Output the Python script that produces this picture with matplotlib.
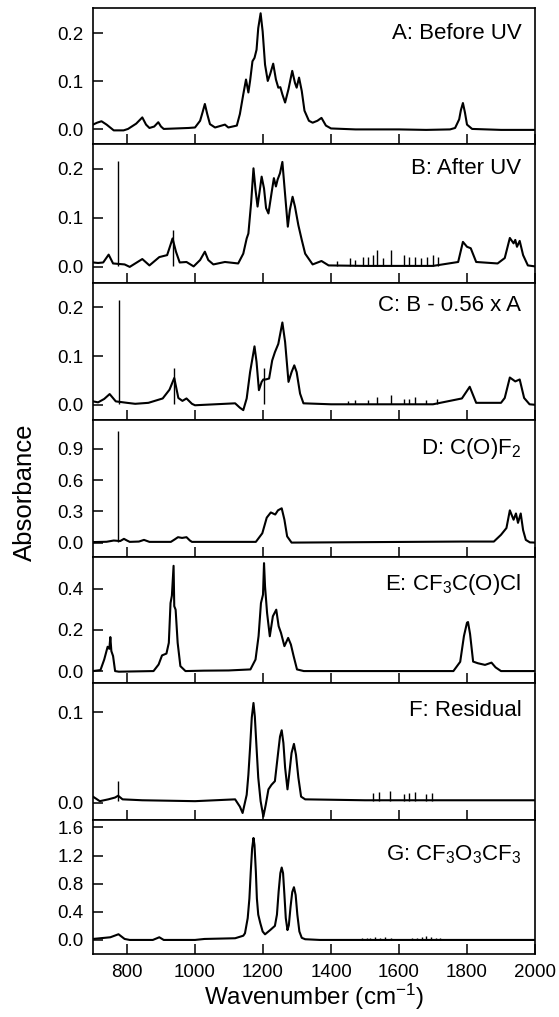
import matplotlib
matplotlib.use('Agg')
import matplotlib.pyplot as plt
from matplotlib.ticker import FixedLocator, FormatStrFormatter

plt.rcParams['font.family'] = ['Liberation Sans', 'DejaVu Sans']
plt.rcParams['mathtext.default'] = 'regular'

# ---------------- data ----------------
# A: Before UV
a_wn = [700, 712, 725, 740, 761, 790, 803, 827, 845, 856, 866, 880, 892, 900, 908, 981,
        1000, 1015, 1022, 1029, 1036, 1044, 1059, 1088, 1098, 1123, 1132, 1142, 1150, 1157,
        1162, 1169, 1175, 1181, 1186, 1193, 1199, 1206, 1214, 1221, 1230, 1238, 1245, 1251,
        1257, 1265, 1275, 1286, 1294, 1299, 1306, 1314, 1322, 1335, 1346, 1360, 1372, 1385,
        1400, 1472, 1600, 1680, 1750, 1765, 1777, 1782, 1788, 1794, 1800, 1815, 1900, 2000]
a_ab = [0.010, 0.014, 0.017, 0.010, -0.002, -0.002, 0.001, 0.012, 0.025, 0.010, 0.003, 0.006,
        0.015, 0.006, 0.001, 0.003,
        0.004, 0.018, 0.035, 0.053, 0.032, 0.011, 0.004, 0.010, 0.004, 0.008, 0.032, 0.073,
        0.104, 0.077, 0.101, 0.142, 0.149, 0.166, 0.211, 0.242, 0.204, 0.135, 0.101, 0.115,
        0.137, 0.104, 0.087, 0.088, 0.073, 0.056, 0.084, 0.122, 0.097, 0.087, 0.108, 0.080,
        0.039, 0.018, 0.014, 0.018, 0.024, 0.008, 0.002, 0.000, 0.000, -0.001, 0.000, 0.003,
        0.021, 0.040, 0.055, 0.035, 0.010, 0.001, -0.001, -0.001]

# B: After UV
b_wn = [700, 715, 730, 746, 759, 793, 808, 845, 866, 895, 918, 928, 934, 944, 955, 975, 996,
        1015, 1029, 1039, 1054, 1088, 1127, 1142, 1152, 1157, 1165, 1172, 1178, 1184, 1196,
        1203, 1209, 1216, 1225, 1232, 1238, 1243, 1250, 1257, 1263, 1273, 1279, 1287, 1294,
        1304, 1314, 1324, 1346, 1372, 1393, 1500, 1700, 1774, 1788, 1800, 1811, 1827, 1890,
        1911, 1926, 1937, 1942, 1947, 1955, 1965, 1979, 2000]
b_ab = [0.009, 0.008, 0.009, 0.025, 0.007, 0.005, 0.000, 0.016, 0.003, 0.020, 0.024, 0.045,
        0.058, 0.031, 0.009, 0.010, 0.001,
        0.014, 0.031, 0.014, 0.005, 0.010, 0.007, 0.027, 0.058, 0.068, 0.130, 0.201, 0.157,
        0.123, 0.184, 0.160, 0.120, 0.109, 0.150, 0.181, 0.164, 0.178, 0.191, 0.214, 0.164,
        0.082, 0.116, 0.143, 0.123, 0.085, 0.055, 0.027, 0.005, 0.012, 0.003, 0.002, 0.002,
        0.010, 0.051, 0.041, 0.038, 0.010, 0.007, 0.018, 0.059, 0.048, 0.055, 0.041, 0.053,
        0.024, 0.003, 0.001]
b_spike_wn = [774, 934, 1417, 1456, 1472, 1495, 1508, 1524, 1536, 1553, 1576, 1615, 1628,
              1647, 1665, 1683, 1700, 1714]
b_spike_top = [0.215, 0.075, 0.012, 0.018, 0.015, 0.020, 0.020, 0.025, 0.035, 0.018, 0.035,
               0.025, 0.020, 0.020, 0.018, 0.020, 0.025, 0.020]

# C: B - 0.56 x A
c_wn = [700, 715, 733, 749, 767, 800, 824, 863, 905, 925, 939, 951, 963, 975, 991, 1000,
        1118, 1132, 1142, 1152, 1162, 1175, 1181, 1188, 1196, 1201, 1208, 1218, 1227, 1235,
        1245, 1257, 1265, 1275, 1284, 1292, 1299, 1309, 1319, 1400, 1700, 1785, 1808, 1827,
        1900, 1911, 1926, 1942, 1955, 1968, 1984, 2000]
c_ab = [0.007, 0.005, 0.012, 0.022, 0.007, 0.004, 0.002, 0.004, 0.013, 0.031, 0.055, 0.014,
        0.008, 0.013, 0.002, -0.001, 0.003, -0.006, -0.011, 0.013, 0.067, 0.120, 0.088,
        0.030, 0.047, 0.052, 0.052, 0.054, 0.091, 0.108, 0.125, 0.169, 0.129, 0.047, 0.067,
        0.081, 0.067, 0.023, 0.003, 0.001, 0.001, 0.013, 0.037, 0.004, 0.004, 0.014, 0.056,
        0.048, 0.052, 0.014, 0.001, 0.000]
c_spike_wn = [776, 939, 1204, 1451, 1472, 1508, 1534, 1576, 1615, 1628, 1647, 1680, 1712]
c_spike_top = [0.215, 0.075, 0.076, 0.008, 0.010, 0.010, 0.015, 0.020, 0.012, 0.012, 0.015,
               0.010, 0.012]

# D: C(O)F2
d_wn = [700, 740, 761, 780, 791, 800, 808, 835, 850, 866, 929, 940, 950, 962, 975, 985, 991,
        1179, 1198, 1211, 1223, 1236, 1244, 1255, 1263, 1271, 1284, 1785, 1879, 1900, 1916,
        1926, 1937, 1944, 1950, 1958, 1965, 1973, 1985, 2000]
d_ab = [0.005, 0.008, 0.020, 0.015, 0.036, 0.020, 0.007, 0.010, 0.026, 0.007, 0.007, 0.030,
        0.052, 0.045, 0.052, 0.020, 0.007, 0.007, 0.090, 0.240, 0.290, 0.270, 0.310, 0.330,
        0.220, 0.060, 0.000, 0.010, 0.010, 0.075, 0.140, 0.310, 0.220, 0.280, 0.190, 0.280,
        0.120, 0.026, 0.002, 0.000]
d_spike_wn = [774]
d_spike_top = [1.07]

# E: CF3C(O)Cl
e_wn = [700, 722, 733, 743, 748, 751, 754, 759, 765, 776, 878, 893, 903, 916, 923, 928, 932,
        937, 939, 943, 949, 957, 972, 1026, 1099, 1163, 1178, 1187, 1194, 1200, 1203, 1206,
        1212, 1220, 1229, 1239, 1246, 1253, 1263, 1274, 1282, 1290, 1300, 1320, 1760, 1780,
        1791, 1800, 1803, 1809, 1818, 1832, 1853, 1872, 1884, 1900, 2000]
e_ab = [0.000, 0.005, 0.056, 0.118, 0.108, 0.165, 0.097, 0.073, 0.000, -0.003, 0.000, 0.032,
        0.076, 0.085, 0.137, 0.330, 0.366, 0.511, 0.315, 0.298, 0.137, 0.024, 0.000, 0.002,
        0.003, 0.008, 0.056, 0.170, 0.330, 0.371, 0.524, 0.411, 0.282, 0.169, 0.266, 0.298,
        0.218, 0.185, 0.121, 0.161, 0.129, 0.073, 0.008, 0.000, 0.000, 0.045, 0.170, 0.235,
        0.238, 0.180, 0.046, 0.038, 0.030, 0.041, 0.018, 0.000, 0.000]

# F: Residual
f_wn = [700, 720, 745, 765, 774, 787, 845, 1000, 1118, 1132, 1140, 1152, 1157, 1162, 1167,
        1172, 1176, 1181, 1186, 1193, 1201, 1208, 1216, 1225, 1235, 1245, 1250, 1255, 1260,
        1265, 1272, 1277, 1284, 1291, 1297, 1304, 1312, 1324, 1500, 1800, 2000]
f_ab = [0.007, 0.002, 0.004, 0.006, 0.008, 0.004, 0.003, 0.002, 0.004, -0.004, -0.011, 0.009,
        0.031, 0.061, 0.094, 0.110, 0.095, 0.061, 0.028, 0.002, -0.015, -0.002, 0.015, 0.020,
        0.024, 0.057, 0.073, 0.080, 0.066, 0.039, 0.015, 0.031, 0.055, 0.065, 0.053, 0.028,
        0.007, 0.004, 0.003, 0.003, 0.003]
f_spike_wn = [774, 1524, 1540, 1573, 1615, 1628, 1647, 1680, 1696]
f_spike_top = [0.024, 0.011, 0.012, 0.013, 0.010, 0.011, 0.012, 0.010, 0.011]

# G: CF3O3CF3
g_wn = [700, 751, 775, 793, 808, 876, 895, 908, 1000, 1028, 1118, 1142, 1147, 1155, 1160,
        1164, 1168, 1172, 1175, 1179, 1182, 1186, 1192, 1199, 1206, 1221, 1235, 1241, 1246,
        1251, 1255, 1259, 1263, 1267, 1272, 1276, 1281, 1286, 1291, 1296, 1301, 1307, 1314,
        1324, 1367, 2000]
g_ab = [0.014, 0.038, 0.081, 0.014, 0.000, 0.000, 0.038, 0.000, 0.000, 0.014, 0.024, 0.060,
        0.095, 0.310, 0.590, 0.970, 1.300, 1.450, 1.350, 0.970, 0.590, 0.360, 0.240, 0.120,
        0.080, 0.140, 0.200, 0.360, 0.690, 0.950, 1.030, 0.950, 0.640, 0.310, 0.140, 0.210,
        0.470, 0.680, 0.750, 0.640, 0.360, 0.120, 0.030, 0.010, 0.000, 0.000]
g_spike_wn = [1492, 1505, 1516, 1530, 1545, 1560, 1576, 1638, 1652, 1667, 1680, 1695, 1708, 1722]
g_spike_top = [0.03, 0.03, 0.03, 0.04, 0.03, 0.04, 0.03, 0.03, 0.03, 0.04, 0.05, 0.04, 0.03, 0.03]

panel_labels = ['A: Before UV', 'B: After UV', 'C: B - 0.56 x A', 'D: C(O)F$_2$',
                'E: CF$_3$C(O)Cl', 'F: Residual', 'G: CF$_3$O$_3$CF$_3$']
y_ticks = [[0.0, 0.1, 0.2], [0.0, 0.1, 0.2], [0.0, 0.1, 0.2], [0.0, 0.3, 0.6, 0.9],
           [0.0, 0.2, 0.4], [0.0, 0.1], [0.0, 0.4, 0.8, 1.2, 1.6]]
x_ticks = [800, 1000, 1200, 1400, 1600, 1800, 2000]

# ---------------- layout ----------------
W, H = 559, 1017
fig = plt.figure(figsize=(W / 100, H / 100), dpi=100)
heights = [136, 138, 137, 137, 126, 136, 134]
gs = fig.add_gridspec(7, 1, height_ratios=heights, hspace=0,
                      left=93 / W, right=535 / W, top=1 - 8 / H, bottom=1 - 954 / H)

series = [(a_wn, a_ab, [], []), (b_wn, b_ab, b_spike_wn, b_spike_top),
          (c_wn, c_ab, c_spike_wn, c_spike_top), (d_wn, d_ab, d_spike_wn, d_spike_top),
          (e_wn, e_ab, [], []), (f_wn, f_ab, f_spike_wn, f_spike_top),
          (g_wn, g_ab, g_spike_wn, g_spike_top)]
ylims = [(-0.031, 0.253), (-0.032, 0.250), (-0.031, 0.251), (-0.14, 1.18),
         (-0.060, 0.553), (-0.0184, 0.1315), (-0.20, 1.71)]
label_y = [0.815, 0.825, 0.83, 0.795, 0.78, 0.80, 0.74]

axes = []
for i in range(7):
    ax = fig.add_subplot(gs[i])
    wn, ab, swn, stop = series[i]
    ax.plot(wn, ab, color='black', lw=1.5, solid_joinstyle='round')
    if swn:
        ax.vlines(swn, 0.002, stop, color='black', lw=1.0)
    ax.set_xlim(700, 2000)
    ax.set_ylim(*ylims[i])
    ax.yaxis.set_major_locator(FixedLocator(y_ticks[i]))
    ax.yaxis.set_major_formatter(FormatStrFormatter('%.1f'))
    ax.xaxis.set_major_locator(FixedLocator(x_ticks))
    ax.tick_params(axis='both', direction='in', length=7.5, width=1.1, labelsize=13.5,
                   top=False, right=False)
    ax.tick_params(axis='y', pad=7)
    ax.tick_params(axis='x', pad=7)
    if i < 6:
        ax.tick_params(axis='x', labelbottom=False)
    for s in ax.spines.values():
        s.set_linewidth(1.2)
    ax.text(0.969, label_y[i], panel_labels[i], transform=ax.transAxes,
            ha='right', va='center', fontsize=16)
    axes.append(ax)

axes[-1].set_xlabel('Wavenumber (cm$^{-1}$)', fontsize=17.5, labelpad=1)
fig.text(0.045, 1 - 492 / H, 'Absorbance', rotation=90, ha='center', va='center',
         fontsize=18.5)

fig.savefig('out.png', dpi=100)
